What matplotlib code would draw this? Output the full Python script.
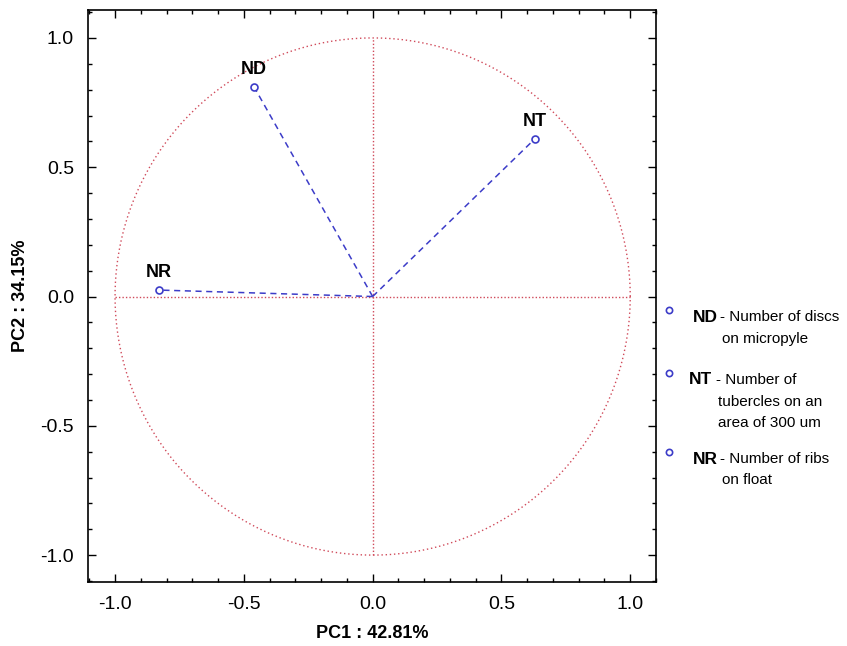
import numpy as np
import matplotlib.pyplot as plt
from matplotlib.lines import Line2D
from matplotlib.ticker import MultipleLocator

# Loadings
variables = ["ND", "NT", "NR"]
pc1 = [-0.46, 0.63, -0.83]
pc2 = [0.81, 0.61, 0.025]
descriptions = [
    ["Number of discs", "on micropyle"],
    ["Number of", "tubercles on an", "area of 300 um"],
    ["Number of ribs", "on float"],
]
ticks = [-1.0, -0.5, 0.0, 0.5, 1.0]

plt.rcParams["font.family"] = ["Liberation Sans", "DejaVu Sans"]

W, H = 847, 646
fig = plt.figure(figsize=(W / 100, H / 100), dpi=100)
ax = fig.add_axes([88 / W, 1 - 582 / H, (656 - 88) / W, (582 - 10) / H])

red = "#d04a5a"
blue = "#3c3cc8"

# unit circle + zero lines
t = np.linspace(0, 2 * np.pi, 400)
ax.plot(np.cos(t), np.sin(t), color=red, lw=1.0, ls=(0, (1, 2)))
ax.plot([-1, 1], [0, 0], color=red, lw=1.0, ls=(0, (1, 1.5)))
ax.plot([0, 0], [-1, 1], color=red, lw=1.0, ls=(0, (1, 1.5)))

for name, x, y in zip(variables, pc1, pc2):
    ax.plot([0, x], [0, y], color=blue, lw=1.1, ls=(0, (4, 3)))
    ax.plot(x, y, "o", mfc="white", mec=blue, ms=5, mew=1.2)
    ax.text(x, y + 0.035, name, ha="center", va="bottom",
            fontsize=13, fontweight="bold")

ax.set_xlim(-1.105, 1.10)
ax.set_ylim(-1.104, 1.108)
ax.set_xticks(ticks)
ax.set_yticks(ticks)
ax.set_xticklabels([f"{v:.1f}" for v in ticks])
ax.set_yticklabels([f"{v:.1f}" for v in ticks])
ax.xaxis.set_minor_locator(MultipleLocator(0.1))
ax.yaxis.set_minor_locator(MultipleLocator(0.1))
ax.tick_params(which="both", direction="in", top=True, right=True,
               labelsize=14, width=1.0, pad=10)
ax.tick_params(which="major", length=6)
ax.tick_params(which="minor", length=3)
for sp in ax.spines.values():
    sp.set_linewidth(1.2)

ax.set_xlabel("PC1 : 42.81%", fontsize=13, fontweight="bold")
ax.set_ylabel("PC2 : 34.15%", fontsize=13, fontweight="bold")
ax.xaxis.set_label_coords(0.5, (582 - 634) / 572)
ax.yaxis.set_label_coords((21 - 88) / 568, 0.5)
ax.xaxis.label.set_va("center")
ax.yaxis.label.set_va("center")

# legend block on the right (pixel positions)
marker_y = [310, 373, 452]
name_x = [693, 689, 693]
dash_x = [720, 716, 720]
indent_x = [722, 718, 722]
for name, desc, my, nx, dx, ix in zip(variables, descriptions, marker_y,
                                      name_x, dash_x, indent_x):
    fig.add_artist(Line2D([669 / W], [1 - my / H], marker="o", mfc="white",
                          mec=blue, ms=4.5, mew=1.2, ls="none"))
    y0 = my + 7
    fig.text(nx / W, 1 - y0 / H, name, fontsize=12.5, fontweight="bold",
             va="center")
    fig.text(dx / W, 1 - y0 / H, "- " + desc[0], fontsize=11, va="center")
    for i, line in enumerate(desc[1:], start=1):
        fig.text(ix / W, 1 - (y0 + 21.5 * i) / H, line, fontsize=11,
                 va="center")

fig.savefig("out.png", dpi=100)
